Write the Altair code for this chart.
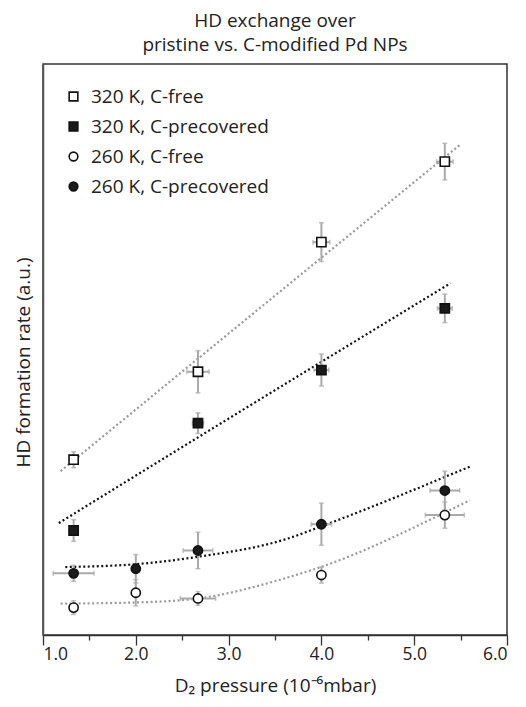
import altair as alt
import pandas as pd

# ---- data (arbitrary y units, 0..10) ----
series_order = ["320 K, C-free", "320 K, C-precovered", "260 K, C-free", "260 K, C-precovered"]

sq_free_x = [1.33, 2.67, 4.0, 5.33]
sq_free_y = [3.07, 4.61, 6.88, 8.29]
sq_free_yerr = [0.14, 0.37, 0.34, 0.32]
sq_free_xerr = [0.03, 0.12, 0.09, 0.09]

sq_pre_x = [1.33, 2.67, 4.0, 5.33]
sq_pre_y = [1.83, 3.71, 4.64, 5.72]
sq_pre_yerr = [0.19, 0.18, 0.28, 0.25]
sq_pre_xerr = [0.05, 0.06, 0.08, 0.08]

ci_free_x = [1.33, 2.0, 2.67, 4.0, 5.33]
ci_free_y = [0.48, 0.74, 0.64, 1.05, 2.10]
ci_free_yerr = [0.12, 0.23, 0.12, 0.14, 0.23]
ci_free_xerr = [0.03, 0.03, 0.19, 0.04, 0.21]

ci_pre_x = [1.33, 2.0, 2.67, 4.0, 5.33]
ci_pre_y = [1.08, 1.16, 1.48, 1.94, 2.53]
ci_pre_yerr = [0.14, 0.25, 0.32, 0.37, 0.34]
ci_pre_xerr = [0.22, 0.03, 0.16, 0.11, 0.16]

# fitted trend lines
fit_sq_free_x = [1.19, 4.01, 5.49]
fit_sq_free_y = [2.87, 6.62, 8.58]
fit_sq_pre_x = [1.17, 2.98, 5.39]
fit_sq_pre_y = [1.96, 3.77, 6.16]
fit_ci_free_x = [1.19, 2.0, 2.67, 3.6, 4.01, 5.35, 5.6]
fit_ci_free_y = [0.55, 0.57, 0.64, 0.99, 1.20, 2.16, 2.36]
fit_ci_pre_x = [1.24, 2.0, 2.67, 3.64, 4.01, 5.6]
fit_ci_pre_y = [1.19, 1.24, 1.37, 1.69, 1.91, 2.95]

x_ticks = [1.0, 1.5, 2.0, 2.5, 3.0, 3.5, 4.0, 4.5, 5.0, 5.5, 6.0]

# ---- build tables ----
rows = []
for name, xs, ys, yes, xes in [
    (series_order[0], sq_free_x, sq_free_y, sq_free_yerr, sq_free_xerr),
    (series_order[1], sq_pre_x, sq_pre_y, sq_pre_yerr, sq_pre_xerr),
    (series_order[2], ci_free_x, ci_free_y, ci_free_yerr, ci_free_xerr),
    (series_order[3], ci_pre_x, ci_pre_y, ci_pre_yerr, ci_pre_xerr),
]:
    for x, y, ye, xe in zip(xs, ys, yes, xes):
        rows.append(dict(series=name, x=x, y=y, y_lo=y - ye, y_hi=y + ye, x_lo=x - xe, x_hi=x + xe))
pts = pd.DataFrame(rows)

frows = []
for name, xs, ys in [
    (series_order[0], fit_sq_free_x, fit_sq_free_y),
    (series_order[1], fit_sq_pre_x, fit_sq_pre_y),
    (series_order[2], fit_ci_free_x, fit_ci_free_y),
    (series_order[3], fit_ci_pre_x, fit_ci_pre_y),
]:
    for i, (x, y) in enumerate(zip(xs, ys)):
        frows.append(dict(fit=name + " fit", x=x, y=y, i=i))
fits = pd.DataFrame(frows)
fit_order = [s + " fit" for s in series_order]

xscale = alt.Scale(domain=[1, 6], nice=False, zero=False)
yscale = alt.Scale(domain=[0, 10], nice=False, zero=False)

X = alt.X("x:Q", scale=xscale, title="D₂ pressure (10⁻⁶mbar)",
          axis=alt.Axis(values=x_ticks,
                        labelExpr="datum.value % 1 === 0 ? format(datum.value, '.1f') : ''",
                        tickSize={"condition": {"test": "datum.value % 1 === 0", "value": 10}, "value": 5},
                        grid=False, domainColor="#333", tickColor="#333", tickWidth=1.3,
                        domainWidth=1.5, labelFontSize=17.5, labelPadding=0,
                        titleFontSize=19, titlePadding=14, titleFontWeight="normal",
                        labelColor="#222", titleColor="#222"))
Y = alt.Y("y:Q", scale=yscale, title="HD formation rate (a.u.)",
          axis=alt.Axis(ticks=False, labels=False, grid=False, domainColor="#555",
                        domainWidth=1.5, titleFontSize=19, titleFontWeight="normal",
                        titleColor="#222", titlePadding=10, titleY=298))

lines = alt.Chart(fits).mark_line(strokeDash=[2, 2.5], strokeWidth=2.2, interpolate="monotone").encode(
    x=alt.X("x:Q", scale=xscale),
    y=alt.Y("y:Q", scale=yscale),
    color=alt.Color("fit:N", sort=fit_order,
                    scale=alt.Scale(domain=fit_order, range=["#9a9a9a", "#111111", "#9a9a9a", "#111111"]),
                    legend=None),
    order="i:O",
)

err_color = "#aaaaaa"
vbars = alt.Chart(pts).mark_rule(color=err_color, strokeWidth=2).encode(
    x=alt.X("x:Q", scale=xscale), y=alt.Y("y_lo:Q", scale=yscale), y2="y_hi:Q")
hbars = alt.Chart(pts).mark_rule(color=err_color, strokeWidth=2).encode(
    y=alt.Y("y:Q", scale=yscale), x=alt.X("x_lo:Q", scale=xscale), x2="x_hi:Q")
cap_lo = alt.Chart(pts).mark_tick(orient="horizontal", size=5, thickness=1.5, color=err_color).encode(
    x=alt.X("x:Q", scale=xscale), y=alt.Y("y_lo:Q", scale=yscale))
cap_hi = alt.Chart(pts).mark_tick(orient="horizontal", size=5, thickness=1.5, color=err_color).encode(
    x=alt.X("x:Q", scale=xscale), y=alt.Y("y_hi:Q", scale=yscale))
cap_l = alt.Chart(pts).mark_tick(orient="vertical", size=5, thickness=1.5, color=err_color).encode(
    x=alt.X("x_lo:Q", scale=xscale), y=alt.Y("y:Q", scale=yscale))
cap_r = alt.Chart(pts).mark_tick(orient="vertical", size=5, thickness=1.5, color=err_color).encode(
    x=alt.X("x_hi:Q", scale=xscale), y=alt.Y("y:Q", scale=yscale))

leg = alt.Legend(title=None, orient="none", legendX=21, legendY=23, labelFontSize=19,
                 labelColor="#222", symbolStrokeWidth=1.6, labelLimit=400,
                 symbolSize=75, labelOffset=8, rowPadding=10, padding=0)

points = alt.Chart(pts).mark_point(filled=True, strokeWidth=1.6, size=85, opacity=1).encode(
    x=X,
    y=Y,
    shape=alt.Shape("series:N", sort=series_order,
                    scale=alt.Scale(domain=series_order, range=["square", "square", "circle", "circle"]),
                    legend=leg),
    fill=alt.Fill("series:N", sort=series_order,
                  scale=alt.Scale(domain=series_order, range=["white", "#1a1a1a", "white", "#1a1a1a"]),
                  legend=leg),
    stroke=alt.Stroke("series:N", sort=series_order,
                      scale=alt.Scale(domain=series_order, range=["#111111", "#111111", "#111111", "#111111"]),
                      legend=leg),
)

chart = alt.layer(lines, vbars, hbars, cap_lo, cap_hi, cap_l, cap_r, points).properties(
    width=464, height=571,
    autosize=alt.AutoSizeParams(type="none"),
    padding={"left": 35, "top": 56, "right": 11, "bottom": 64},
    title=alt.TitleParams(["HD exchange over", "pristine vs. C-modified Pd NPs"], anchor="middle",
                          fontSize=19, fontWeight="normal", color="#222", lineHeight=24, offset=9),
).configure(font="Open Sans").configure_view(stroke="#333", strokeWidth=1.5)

chart.save("out.html", embed_options={"renderer": "svg", "actions": False})
